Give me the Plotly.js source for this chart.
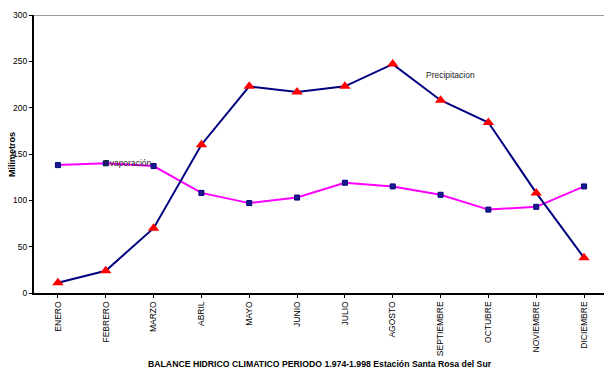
<!DOCTYPE html>
<html>
<head>
<meta charset="utf-8">
<script src="https://cdn.plot.ly/plotly-3.0.1.min.js"></script>
<style>
  html, body { margin: 0; padding: 0; background: #fff; }
  #chart { width: 604px; height: 371px; }
</style>
</head>
<body>
<div id="chart"></div>
<script>
// Monthly water balance, Santa Rosa del Sur station (1974-1998), in millimetres
const months = ["ENERO", "FEBRERO", "MARZO", "ABRIL", "MAYO", "JUNIO",
                "JULIO", "AGOSTO", "SEPTIEMBRE", "OCTUBRE", "NOVIEMBRE", "DICIEMBRE"];
const precipitacion = [11, 24, 70, 160, 223, 217, 223, 247, 208, 184, 108, 38];
const evaporacion   = [138, 140, 137, 108, 97, 103, 119, 115, 106, 90, 93, 115];
const yTicks = [0, 50, 100, 150, 200, 250, 300];

const FONT = 'Arial, "Liberation Sans", sans-serif';
const idx = months.map((_, i) => i);

const traces = [
  {
    name: "Evaporación",
    x: idx, y: evaporacion,
    type: "scatter", mode: "lines+markers",
    line: { color: "#FF00FF", width: 2 },
    marker: { symbol: "square", size: 5, color: "#1a1a8c",
              line: { color: "#000080", width: 1 } },
    cliponaxis: false
  },
  {
    name: "Precipitacion",
    x: idx, y: precipitacion,
    type: "scatter", mode: "lines+markers",
    line: { color: "#000080", width: 2 },
    marker: { symbol: "triangle-up", size: 10, color: "#FF0000" },
    cliponaxis: false
  }
];

const yMax = yTicks[yTicks.length - 1];

const layout = {
  width: 604, height: 371,
  margin: { l: 34, r: 0, t: 15, b: 78 },
  paper_bgcolor: "#fff", plot_bgcolor: "#fff",
  showlegend: false,
  font: { family: FONT, size: 8.5, color: "#000" },
  xaxis: {
    range: [-0.5, 11.417],
    tickvals: idx, ticktext: months,
    tickangle: -90,
    tickson: "boundaries",
    ticks: "outside", ticklen: 3, tickwidth: 1, tickcolor: "#000",
    showline: true, linecolor: "#000", linewidth: 2,
    showgrid: false, zeroline: false,
    tickfont: { family: FONT, size: 8.5, color: "#000" }
  },
  yaxis: {
    range: [0, yMax],
    tickvals: yTicks,
    ticks: "outside", ticklen: 3, tickwidth: 1, tickcolor: "#000",
    showline: true, linecolor: "#000", linewidth: 2,
    showgrid: false, zeroline: false,
    tickfont: { family: FONT, size: 8.5, color: "#000" }
  },
  shapes: [
    // grey frame line along the top of the value axis
    { type: "line", xref: "paper", yref: "y", x0: 0, x1: 1, y0: yMax, y1: yMax,
      line: { color: "#9a9a9a", width: 2 }, layer: "below" }
  ],
  annotations: [
    { text: "Precipitacion", xref: "x", yref: "y", x: 7.65, y: 235,
      xanchor: "left", yanchor: "middle", showarrow: false,
      font: { family: FONT, size: 8.5, color: "#222" } },
    { text: "Evaporación", xref: "x", yref: "y", x: 0.92, y: 140,
      xanchor: "left", yanchor: "middle", showarrow: false,
      font: { family: FONT, size: 8.5, color: "#222" } },
    { text: "<b>BALANCE HIDRICO CLIMATICO PERIODO 1.974-1.998 Estación Santa Rosa del Sur</b>",
      xref: "paper", yref: "paper", x: 0.502, y: -0.254,
      xanchor: "center", yanchor: "middle", showarrow: false,
      font: { family: FONT, size: 8.7, color: "#000" } },
    { text: "<b>Milimetros</b>", textangle: -90,
      xref: "paper", yref: "paper", x: -0.0386, y: 0.5,
      xanchor: "center", yanchor: "middle", showarrow: false,
      font: { family: FONT, size: 9, color: "#000" } }
  ]
};

Plotly.newPlot("chart", traces, layout, { displayModeBar: false, staticPlot: true });
</script>
</body>
</html>
